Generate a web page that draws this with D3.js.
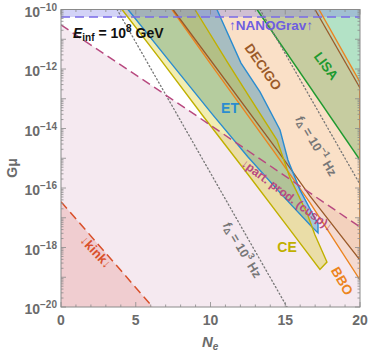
<!DOCTYPE html>
<html><head><meta charset="utf-8">
<script src="https://cdn.jsdelivr.net/npm/d3@7"></script>
<style>
body{margin:0;background:#fff;}
svg{font-family:"Liberation Sans",Arial,sans-serif;}
</style></head>
<body><svg id="chart" width="370" height="353"></svg>
<script>
// axis ticks
const xTicks = [0, 5, 10, 15, 20];
const yTickExps = [-10, -12, -14, -16, -18, -20];

// boundaries as [N_e, log10(G mu)]
const cuspLine = [[0, -10.52], [8.3, -13.31], [20, -17.31]];
const kinkLine = [[0, -16.46], [6.13, -20]];
const nanogravLevel = -10.25;
const fHighLine = [[3.75, -10], [15.12, -20]];   // f = 10^3 Hz
const fLowLine = [[13.31, -10], [20, -15.88]];   // f = 10^-1 Hz
const lisaEdge = [[13.11, -10], [20, -15.06]];
const bboLower = [[7.42, -10], [9.97, -11.80], [14.31, -14.82], [16.66, -16.50], [20, -19.09]];
const bboUpper = [[17.26, -10], [20, -12.44]];
const decigoLower = [[7.49, -10], [14.45, -14.72], [16.66, -16.27], [20, -18.42]];
const decigoUpper = [[16.99, -10], [20, -12.64]];
const etLeft = [[4.48, -10], [7.29, -11.76], [10.17, -13.55], [12.51, -14.96], [14.98, -16.34], [16.79, -17.31], [17.19, -17.51]];
const etRight = [[17.19, -17.21], [15.99, -16.07], [15.18, -15.06], [14.65, -14.05], [13.31, -12.77], [12.04, -11.80], [10.43, -10]];
const ceLeft = [[4.08, -10], [6.62, -11.66], [9.50, -13.58], [12.64, -15.63], [14.98, -17.18], [17.32, -18.74]];
const ceRight = [[17.79, -18.49], [16.99, -17.58], [16.45, -16.84], [15.32, -15.66], [14.45, -14.39], [12.64, -12.97], [11.17, -11.80], [8.96, -10]];

const svg = d3.select('#chart');
const x = d3.scaleLinear().domain([0, 20]).range([61, 360]);
const y = d3.scaleLog().domain([1e-20, 1e-10]).range([307, 9.5]);
const pt = p => [x(p[0]), y(Math.pow(10, p[1]))];
const line = d3.line();
const path = pts => line(pts.map(pt));

svg.append('clipPath').attr('id', 'clip')
  .append('rect').attr('x', 61).attr('y', 9.5).attr('width', 299).attr('height', 297.5);
const plot = svg.append('g').attr('clip-path', 'url(#clip)');

// filled regions
function region(pts, fill, op) {
  plot.append('path').attr('d', path(pts) + 'Z').attr('fill', fill).attr('fill-opacity', op);
}
region(cuspLine.concat([[20, -20], [0, -20]]), '#aa4682', 0.12);
region(kinkLine.concat([[0, -20]]), '#d9402a', 0.16);
region(lisaEdge.concat([[20, -10]]), '#2cb060', 0.36);
region(bboLower.concat([[20, -12.44], [17.26, -10]]), '#f0a050', 0.2);
region(decigoLower.concat([[20, -12.64], [16.99, -10]]), '#f0a050', 0.15);
region(etLeft.concat(etRight), '#2a8ab8', 0.4);
region(ceLeft.concat(ceRight), '#d2c200', 0.3);
region([[0, -10], [20, -10], [20, nanogravLevel], [0, nanogravLevel]], '#8080e8', 0.35);

// boundary lines
function stroke(pts, color, w, dash) {
  const p = plot.append('path').attr('d', path(pts)).attr('fill', 'none')
    .attr('stroke', color).attr('stroke-width', w);
  if (dash) p.attr('stroke-dasharray', dash);
  return p;
}
stroke(lisaEdge, '#1e9a30', 1.4);
stroke(bboLower, '#ec8420', 1.4);
stroke(bboUpper, '#ec8420', 1.4);
stroke([[20, -12.44], [20, -19.09]], '#ec8420', 2);
stroke(decigoLower, '#9a5a2a', 1.3);
stroke(decigoUpper, '#9a5a2a', 1.3);
stroke(etLeft.concat(etRight), '#2a8cd0', 1.4);
stroke(ceLeft.concat(ceRight), '#c0b000', 1.4);
stroke(fHighLine, '#777', 1.3, '1.2,2.6').attr('stroke-linecap', 'round');
stroke(fLowLine, '#777', 1.3, '1.2,2.6').attr('stroke-linecap', 'round');
stroke(cuspLine, '#b84a80', 1.5, '9,5');
stroke(kinkLine, '#d9502a', 1.5, '9,5');
stroke([[0, nanogravLevel], [20, nanogravLevel]], '#7a6ae8', 1.5, '9,5');

// frame and ticks
const axisColor = '#8a8a8a';
svg.append('rect').attr('x', 61).attr('y', 9.5).attr('width', 299).attr('height', 297.5)
  .attr('fill', 'none').attr('stroke', axisColor).attr('stroke-width', 1);
const tk = svg.append('g').attr('stroke', axisColor).attr('stroke-width', 0.8);
d3.range(0, 21).forEach(n => {
  const len = n % 5 === 0 ? 5 : 2.5;
  tk.append('line').attr('x1', x(n)).attr('x2', x(n)).attr('y1', 307).attr('y2', 307 - len);
  tk.append('line').attr('x1', x(n)).attr('x2', x(n)).attr('y1', 9.5).attr('y2', 9.5 + len);
});
d3.range(-20, -10).forEach(e => {
  d3.range(1, 10).forEach(m => {
    const v = m * Math.pow(10, e);
    const len = m === 1 ? 5 : 2.5;
    tk.append('line').attr('y1', y(v)).attr('y2', y(v)).attr('x1', 61).attr('x2', 61 + len);
    tk.append('line').attr('y1', y(v)).attr('y2', y(v)).attr('x1', 360).attr('x2', 360 - len);
  });
});

const tickCol = '#6b6b6b';
xTicks.forEach(n => {
  svg.append('text').attr('x', x(n)).attr('y', 325).attr('text-anchor', 'middle')
    .attr('font-size', 14).attr('font-weight', 'bold').attr('fill', tickCol).text(n);
});
yTickExps.forEach(e => {
  const t = svg.append('text').attr('x', 57).attr('y', y(Math.pow(10, e)) + 7)
    .attr('text-anchor', 'end').attr('font-weight', 'bold').attr('fill', tickCol).attr('font-size', 14);
  t.append('tspan').text('10');
  t.append('tspan').attr('font-size', 10).attr('dy', -6).text('\u2212' + (-e));
});

// axis titles
svg.append('text').attr('transform', 'translate(17,168) rotate(-90)').attr('text-anchor', 'middle')
  .attr('font-size', 14).attr('font-weight', 'bold').attr('fill', tickCol).text('G\u03bc');
const nx = svg.append('text').attr('x', 202).attr('y', 347).attr('font-size', 15)
  .attr('font-style', 'italic').attr('font-weight', 'bold').attr('fill', tickCol);
nx.append('tspan').text('N');
nx.append('tspan').attr('font-size', 10).attr('dy', 3).text('e');

// labels
const ein = svg.append('text').attr('x', 73).attr('y', 38).attr('font-size', 14).attr('font-weight', 'bold').attr('fill', '#111');
ein.append('tspan').attr('font-style', 'italic').text('E');
ein.append('tspan').attr('font-size', 10).attr('dy', 3).text('inf');
ein.append('tspan').attr('dy', -3).text(' = 10');
ein.append('tspan').attr('font-size', 10).attr('dy', -6).text('8');
ein.append('tspan').attr('dy', 6).text(' GeV');

function label(txt, cx, cy, ang, color, size) {
  return svg.append('text').attr('transform', `translate(${cx},${cy}) rotate(${ang})`)
    .attr('text-anchor', 'middle').attr('dominant-baseline', 'central')
    .attr('font-size', size).attr('font-weight', 'bold').attr('fill', color).text(txt);
}
label('\u2191NANOGrav\u2191', 271, 25, 0, '#6e5ee0', 13.5);
label('DECIGO', 263, 67, 55, '#9a5a2a', 13.5);
label('LISA', 326, 66, 53, '#1e9a30', 13.5);
label('ET', 230, 108, 0, '#2a8cd0', 14);
label('CE', 287, 247, 0, '#c0b000', 14);
label('BBO', 342, 281, 60, '#ec8420', 13.5);
label('\u2193kink\u2193', 96, 252, 47, '#d9502a', 13);
label('\u2193part. prod. (cusp)\u2193', 287, 195, 37, '#b84a80', 12);

function fLabel(base, cx, cy) {
  const t = svg.append('text').attr('transform', `translate(${cx},${cy}) rotate(59)`)
    .attr('text-anchor', 'middle').attr('dominant-baseline', 'central')
    .attr('font-size', 12.5).attr('font-weight', 'bold').attr('fill', '#777');
  t.append('tspan').attr('font-style', 'italic').text('f');
  t.append('tspan').attr('font-size', 9).attr('dy', 3).text('\u0394');
  t.append('tspan').attr('dy', -3).text(' = 10');
  t.append('tspan').attr('font-size', 9).attr('dy', -5).text(base);
  t.append('tspan').attr('dy', 5).text(' Hz');
}
fLabel('\u22121', 316, 146);
fLabel('3', 242, 250);
</script>
</body></html>
